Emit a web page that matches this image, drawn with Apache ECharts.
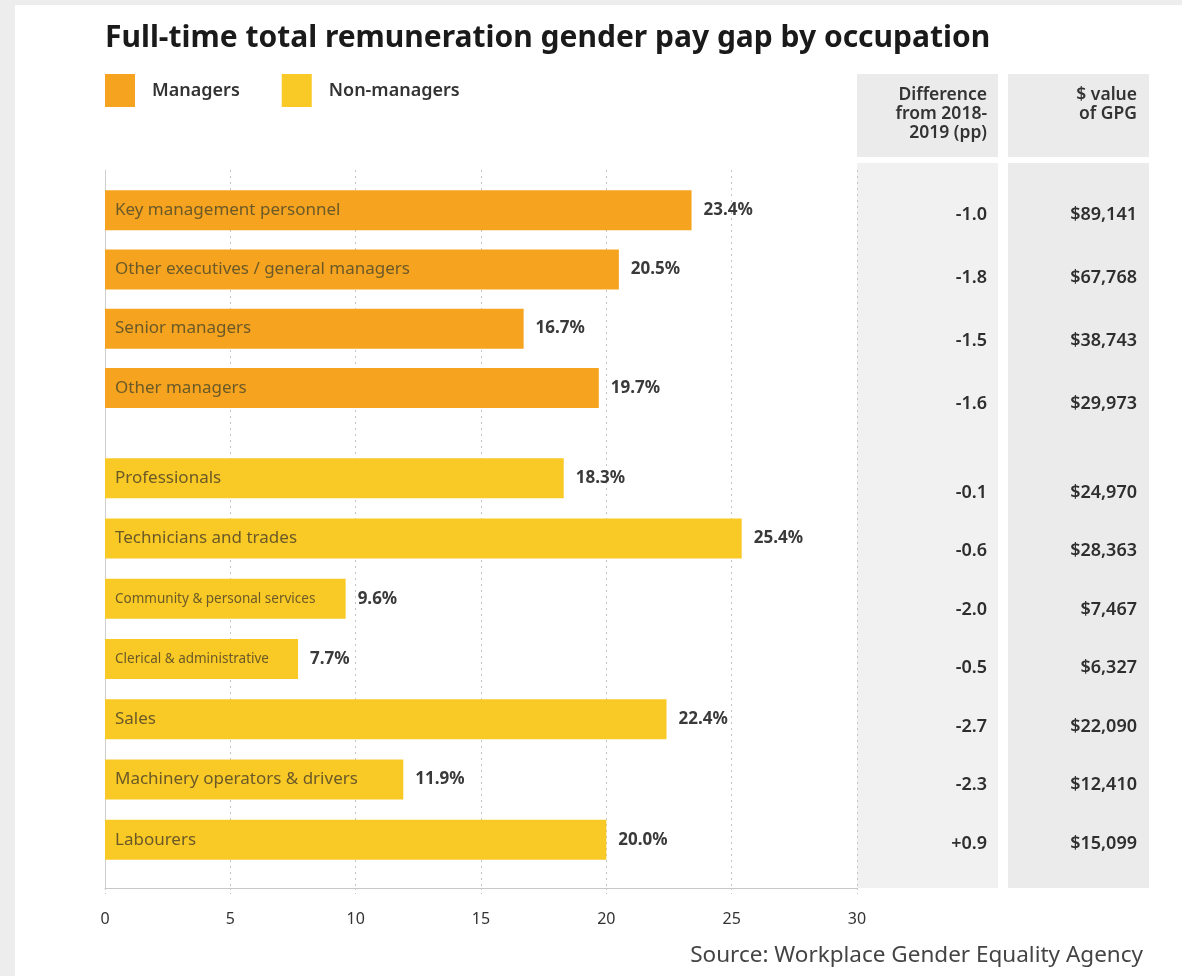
<!DOCTYPE html>
<html>
<head>
<meta charset="utf-8">
<title>Full-time total remuneration gender pay gap by occupation</title>
<script src="https://cdn.jsdelivr.net/npm/echarts@6/dist/echarts.min.js"></script>
<style>
  html, body { margin: 0; padding: 0; background: #ededed; }
  #panel { position: absolute; left: 15px; top: 5px; width: 1167px; height: 971px; background: #ffffff; }
  #chart { position: absolute; left: 0; top: 0; width: 1182px; height: 976px; }
</style>
</head>
<body>
<div id="panel"></div>
<div id="chart"></div>
<script>
// Occupation groups
const managerNames = [
  'Key management personnel',
  'Other executives / general managers',
  'Senior managers',
  'Other managers'
];
const nonManagerNames = [
  'Professionals',
  'Technicians and trades',
  'Community & personal services',
  'Clerical & administrative',
  'Sales',
  'Machinery operators & drivers',
  'Labourers'
];

// Gender pay gap (%)
const managerGap = [23.4, 20.5, 16.7, 19.7];
const nonManagerGap = [18.3, 25.4, 9.6, 7.7, 22.4, 11.9, 20.0];

// Difference from 2018-2019 (percentage points)
const managerDiff = ['-1.0', '-1.8', '-1.5', '-1.6'];
const nonManagerDiff = ['-0.1', '-0.6', '-2.0', '-0.5', '-2.7', '-2.3', '+0.9'];

// Dollar value of the gap
const managerDollar = ['$89,141', '$67,768', '$38,743', '$29,973'];
const nonManagerDollar = ['$24,970', '$28,363', '$7,467', '$6,327', '$22,090', '$12,410', '$15,099'];

// Horizontal axis ticks
const xTicks = [0, 5, 10, 15, 20, 25, 30];

// Long names that use a smaller in-bar label
const compactNames = ['Community & personal services', 'Clerical & administrative'];

const FONT = '"Noto Sans", "Open Sans", sans-serif';
const ORANGE = '#f6a31f';
const YELLOW = '#f9c926';
const LABEL_INK = '#6b5a28';

const chart = echarts.init(document.getElementById('chart'), null, { renderer: 'canvas' });

function nameLabel() {
  return {
    show: true,
    position: 'insideLeft',
    distance: 10,
    fontFamily: FONT,
    color: LABEL_INK,
    formatter: p => compactNames.includes(p.name) ? '{s|' + p.name + '}' : '{n|' + p.name + '}',
    rich: {
      n: { fontSize: 17, fontFamily: FONT, color: LABEL_INK },
      s: { fontSize: 13.5, fontFamily: FONT, color: LABEL_INK }
    }
  };
}

function valueLabel() {
  return {
    show: true,
    position: 'right',
    distance: 12,
    fontFamily: FONT,
    fontSize: 17,
    fontWeight: 'bold',
    color: '#3a3a3a',
    formatter: p => p.value.toFixed(1) + '%'
  };
}

const hiddenX = (grid) => ({
  gridIndex: grid, type: 'value', min: 0, max: 30, interval: 5,
  show: false
});

const catY = (grid, names, extra) => Object.assign({
  gridIndex: grid, type: 'category', data: names, inverse: true,
  axisLine: { show: false }, axisTick: { show: false },
  axisLabel: { show: false }, splitLine: { show: false }
}, extra || {});

const tableLabel = (values) => ({
  show: true, margin: 0, fontFamily: FONT, fontSize: 18, fontWeight: 600, color: '#2e2e2e',
  formatter: (v, i) => values[i]
});

const option = {
  animation: false,
  textStyle: { fontFamily: FONT },
  title: {
    text: 'Full-time total remuneration gender pay gap by occupation',
    left: 100, top: 18,
    textStyle: { fontFamily: FONT, fontSize: 30, fontWeight: 'bold', color: '#1a1a1a' }
  },
  legend: {
    left: 100, top: 69,
    icon: 'rect',
    itemWidth: 30, itemHeight: 33, itemGap: 42,
    data: ['Managers', 'Non-managers'],
    selectedMode: false,
    textStyle: { fontFamily: FONT, fontSize: 18, fontWeight: 600, color: '#333', padding: [4, 0, 0, 12] }
  },
  graphic: [
    // table column backgrounds
    { type: 'rect', z: -5, shape: { x: 857, y: 74, width: 141, height: 83 }, style: { fill: '#ebebeb' } },
    { type: 'rect', z: -5, shape: { x: 1008, y: 74, width: 141, height: 83 }, style: { fill: '#ebebeb' } },
    { type: 'rect', z: -5, shape: { x: 857, y: 163, width: 141, height: 725 }, style: { fill: '#f1f1f1' } },
    { type: 'rect', z: -5, shape: { x: 1008, y: 163, width: 141, height: 725 }, style: { fill: '#ebebeb' } },
    // table headers
    { type: 'text', x: 987, y: 86, style: {
        text: 'Difference\nfrom 2018-\n2019 (pp)', align: 'right', lineHeight: 19,
        font: '600 17.5px ' + FONT, fill: '#333' } },
    { type: 'text', x: 1137, y: 86, style: {
        text: '$ value\nof GPG', align: 'right', lineHeight: 19,
        font: '600 17.5px ' + FONT, fill: '#333' } },
    // source
    { type: 'text', x: 1143, y: 944, style: {
        text: 'Source: Workplace Gender Equality Agency', align: 'right',
        font: '22.5px ' + FONT, fill: '#444' } }
  ],
  grid: [
    // 0: shared frame with ticks and dotted gridlines
    { left: 105, width: 752, top: 170, height: 718 },
    // 1: managers bars
    { left: 105, width: 752, top: 180.5, height: 237 },
    // 2: non-manager bars
    { left: 105, width: 752, top: 448, height: 422 },
    // 3: managers table rows
    { left: 987, width: 150, top: 183.5, height: 252 },
    // 4: non-manager table rows
    { left: 987, width: 150, top: 463.5, height: 409.5 }
  ],
  xAxis: [
    {
      gridIndex: 0, type: 'value', min: xTicks[0], max: xTicks[xTicks.length - 1], interval: 5,
      axisLine: { show: true, lineStyle: { color: '#c8c8c8', width: 1 } },
      axisTick: { show: true, length: 6, lineStyle: { color: '#c8c8c8', type: [2, 3] } },
      axisLabel: { margin: 23, fontFamily: FONT, fontSize: 16, color: '#333' },
      splitLine: { show: true, lineStyle: { color: '#c4c4c4', type: [2, 4], width: 1 } }
    },
    hiddenX(1), hiddenX(2),
    { gridIndex: 3, type: 'value', show: false },
    { gridIndex: 4, type: 'value', show: false }
  ],
  yAxis: [
    {
      gridIndex: 0, type: 'value', min: 0, max: 1,
      axisLine: { show: true, lineStyle: { color: '#cfcfcf', width: 1 } },
      axisTick: { show: false }, axisLabel: { show: false }, splitLine: { show: false }
    },
    catY(1, managerNames),
    catY(2, nonManagerNames),
    // difference column
    catY(3, managerNames, { position: 'left', axisLabel: tableLabel(managerDiff) }),
    catY(4, nonManagerNames, { position: 'left', axisLabel: tableLabel(nonManagerDiff) }),
    // dollar column
    catY(3, managerNames, { position: 'right', axisLabel: Object.assign(tableLabel(managerDollar), { inside: true }) }),
    catY(4, nonManagerNames, { position: 'right', axisLabel: Object.assign(tableLabel(nonManagerDollar), { inside: true }) })
  ],
  series: [
    {
      name: 'Managers', type: 'bar', xAxisIndex: 1, yAxisIndex: 1,
      data: managerGap, barWidth: 40, itemStyle: { color: ORANGE },
      label: valueLabel()
    },
    {
      name: 'Managers labels', type: 'bar', xAxisIndex: 1, yAxisIndex: 1,
      data: managerGap, barWidth: 40, barGap: '-100%', itemStyle: { color: 'rgba(0,0,0,0)' },
      label: nameLabel(), silent: true
    },
    {
      name: 'Non-managers', type: 'bar', xAxisIndex: 2, yAxisIndex: 2,
      data: nonManagerGap, barWidth: 40, itemStyle: { color: YELLOW },
      label: valueLabel()
    },
    {
      name: 'Non-managers labels', type: 'bar', xAxisIndex: 2, yAxisIndex: 2,
      data: nonManagerGap, barWidth: 40, barGap: '-100%', itemStyle: { color: 'rgba(0,0,0,0)' },
      label: nameLabel(), silent: true
    }
  ]
};

chart.setOption(option);
</script>
</body>
</html>
